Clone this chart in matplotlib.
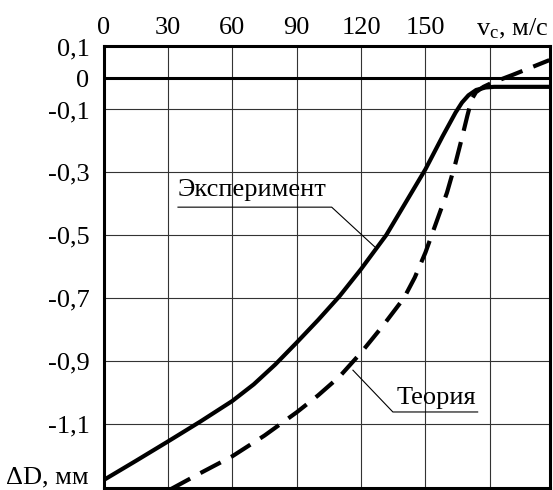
import matplotlib
matplotlib.use("Agg")
import matplotlib.pyplot as plt

plt.rcParams['font.family'] = ['Liberation Serif', 'DejaVu Serif']
plt.rcParams['mathtext.fontset'] = 'custom'
plt.rcParams['mathtext.rm'] = 'Liberation Serif'

# Data
exp_x = [0, 15, 30, 45, 60, 70, 80, 90, 100, 110, 120, 131.7, 140, 150, 158, 164, 167, 170, 173.6, 178, 182, 208]
exp_y = [-1.28, -1.219, -1.157, -1.094, -1.028, -0.975, -0.912, -0.842, -0.770, -0.694, -0.608, -0.50,
         -0.405, -0.29, -0.185, -0.11, -0.078, -0.055, -0.038, -0.030, -0.028, -0.028]

th_x = [31, 45, 60, 75, 90, 100, 110, 120, 130, 140, 145, 150, 155, 160, 164, 167, 169.5, 171.5,
        173.5, 177, 181, 190.6, 207.7]
th_y = [-1.31, -1.258, -1.204, -1.138, -1.064, -1.01, -0.95, -0.874, -0.79, -0.70, -0.635, -0.555,
        -0.46, -0.365, -0.27, -0.19, -0.12, -0.068, -0.045, -0.028, -0.015, 0.01, 0.057]

x_ticks = [0, 30, 60, 90, 120, 150]
x_grid = [30, 60, 90, 120, 150, 180]
y_ticks = [0.1, 0, -0.1, -0.3, -0.5, -0.7, -0.9, -1.1]
y_ticklabels = ['0,1', '0', '-0,1', '-0,3', '-0,5', '-0,7', '-0,9', '-1,1']
y_grid = [-0.1, -0.3, -0.5, -0.7, -0.9, -1.1]

fs = 19
fig = plt.figure(figsize=(5.53, 4.90), dpi=100)
ax = fig.add_axes([103.5/553, 2/490, (550-103.5)/553, (488-46)/490])
ax.set_xlim(0, 208)
ax.set_ylim(-1.305, 0.102)

for g in x_grid:
    ax.axvline(g, color='#333333', lw=0.8, zorder=1)
for g in y_grid:
    ax.axhline(g, color='#333333', lw=0.8, zorder=1)
ax.axhline(0, color='black', lw=2.2, zorder=2)

ax.plot(exp_x, exp_y, color='black', lw=3.0, solid_capstyle='butt',
        solid_joinstyle='round', zorder=3)
ax.plot(th_x, th_y, color='black', lw=3.0, linestyle=(0, (5.5, 2.8)), zorder=3)

for s in ax.spines.values():
    s.set_linewidth(2.2)
    s.set_color('black')

ax.xaxis.tick_top()
ax.set_xticks(x_ticks)
ax.set_xticklabels([str(v) for v in x_ticks])
ax.set_yticks(y_ticks)
ax.set_yticklabels(y_ticklabels)
ax.tick_params(axis='x', length=0, pad=5, labelsize=fs)
ax.tick_params(axis='y', length=0, pad=10, labelsize=fs)

ax.text(551/553, 1.0 + 5/442, r'$\mathrm{v_c}$, м/с', transform=ax.transAxes,
        fontsize=fs, ha='right', va='bottom', clip_on=False)
ax.text(-0.0325, -1.27, 'ΔD, мм', transform=ax.get_yaxis_transform(),
        fontsize=fs, ha='right', va='center', clip_on=False)

# Annotations
ax.text(34.7, -0.375, 'Эксперимент', fontsize=fs, ha='left', va='baseline')
ax.plot([34.7, 106.3, 126.3], [-0.411, -0.411, -0.537], color='black', lw=0.8, zorder=2)
ax.text(136.4, -1.038, 'Теория', fontsize=fs, ha='left', va='baseline')
ax.plot([174.3, 134.8, 116.2], [-1.063, -1.063, -0.93], color='black', lw=0.8, zorder=2)

fig.savefig('out.png', dpi=100)
